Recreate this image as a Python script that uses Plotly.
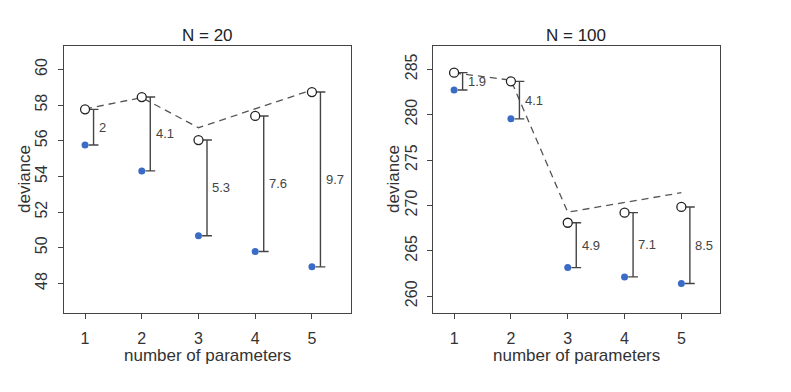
import plotly.graph_objects as go

params = [1, 2, 3, 4, 5]

# N = 20
in20 = [55.76, 54.31, 50.67, 49.79, 48.93]
out20 = [57.76, 58.45, 56.04, 57.39, 58.73]
pred20 = [57.78, 58.42, 56.73, 57.80, 58.85]
lab20 = ["2", "4.1", "5.3", "7.6", "9.7"]

# N = 100
in100 = [282.71, 279.54, 263.15, 262.12, 261.40]
out100 = [284.63, 283.67, 268.09, 269.20, 269.83]
pred100 = [284.60, 283.80, 269.25, 270.30, 271.40]
lab100 = ["1.9", "4.1", "4.9", "7.1", "8.5"]

titles = ["N = 20", "N = 100"]
yticks20 = [48, 50, 52, 54, 56, 58, 60]
yticks100 = [260, 265, 270, 275, 280, 285]

W, H = 791, 392
FONT = "Liberation Sans, Arial, sans-serif"
BLUE = "#3a6bc6"
DARK = "#333333"

fig = go.Figure()

panels = [
    dict(xa="x", ya="y", ins=in20, outs=out20, pred=pred20, labs=lab20),
    dict(xa="x2", ya="y2", ins=in100, outs=out100, pred=pred100, labs=lab100),
]

for p in panels:
    xa, ya = p["xa"], p["ya"]
    # dashed prediction line
    fig.add_trace(go.Scatter(x=params, y=p["pred"], mode="lines", xaxis=xa, yaxis=ya,
                             line=dict(color="#555555", width=1.3, dash="7px,5px"),
                             showlegend=False, hoverinfo="skip"))
    # bars between in and out of sample
    bx, by = [], []
    for xi, a, b in zip(params, p["ins"], p["outs"]):
        bx += [xi + 0.15, xi + 0.15, None]
        by += [a, b, None]
    fig.add_trace(go.Scatter(x=bx, y=by, mode="lines", xaxis=xa, yaxis=ya,
                             line=dict(color="#444444", width=1.4),
                             showlegend=False, hoverinfo="skip"))
    cx = [xi + 0.15 for xi in params] * 2
    cy = list(p["ins"]) + list(p["outs"])
    fig.add_trace(go.Scatter(x=cx, y=cy, mode="markers", xaxis=xa, yaxis=ya,
                             marker=dict(symbol="line-ew-open", size=7, color="#444444",
                                         line=dict(color="#444444", width=1.4)),
                             showlegend=False, hoverinfo="skip"))
    # in-sample points
    fig.add_trace(go.Scatter(x=params, y=p["ins"], mode="markers", xaxis=xa, yaxis=ya,
                             marker=dict(color=BLUE, size=7, line=dict(width=0)),
                             showlegend=False))
    # out-of-sample points
    fig.add_trace(go.Scatter(x=params, y=p["outs"], mode="markers", xaxis=xa, yaxis=ya,
                             marker=dict(color="white", size=9,
                                         line=dict(color="#222222", width=1.3)),
                             showlegend=False))
    # difference labels
    for xi, a, b, t in zip(params, p["ins"], p["outs"], p["labs"]):
        fig.add_annotation(x=xi + 0.21, y=(a + b) / 2, xref=xa, yref=ya, text=t,
                           showarrow=False, xanchor="left", yanchor="middle",
                           font=dict(family=FONT, size=13, color="#444444"))

ydom = [1 - 312.5 / H, 1 - 45.5 / H]
dom1 = [63.5 / W, 350.5 / W]
dom2 = [432.5 / W, 720 / W]

axis_common = dict(showgrid=False, zeroline=False, showline=True, mirror=True,
                   linecolor="#444444", linewidth=1, ticks="outside", ticklen=5,
                   tickcolor="#444444", automargin=False,
                   tickfont=dict(family=FONT, size=16, color=DARK))

fig.update_layout(
    width=W, height=H,
    margin=dict(l=0, r=0, t=0, b=0),
    plot_bgcolor="white", paper_bgcolor="white",
    xaxis=dict(domain=dom1, range=[0.62, 5.68], tickvals=params, anchor="y",
               ticklabelstandoff=6, **axis_common),
    yaxis=dict(domain=ydom, range=[46.37, 61.34], tickvals=yticks20, tickangle=-90,
               anchor="x", ticklabelstandoff=4, **axis_common),
    xaxis2=dict(domain=dom2, range=[0.62, 5.68], tickvals=params, anchor="y2",
                ticklabelstandoff=6, **axis_common),
    yaxis2=dict(domain=ydom, range=[258.2, 287.62], tickvals=yticks100, tickangle=-90,
                anchor="x2", ticklabelstandoff=3, **axis_common),
)

# titles and axis labels
for dom, title, ycx in [(dom1, titles[0], 24), (dom2, titles[1], 393)]:
    cx = (dom[0] + dom[1]) / 2
    fig.add_annotation(x=cx, y=1 - 35 / H, xref="paper", yref="paper", text=title,
                       showarrow=False, xanchor="center", yanchor="middle",
                       font=dict(family=FONT, size=17, color="#222222"))
    fig.add_annotation(x=cx, y=1 - 355 / H, xref="paper", yref="paper",
                       text="number of parameters", showarrow=False,
                       xanchor="center", yanchor="middle",
                       font=dict(family=FONT, size=17, color=DARK))
    fig.add_annotation(x=ycx / W, y=(ydom[0] + ydom[1]) / 2, xref="paper", yref="paper",
                       text="deviance", textangle=-90, showarrow=False,
                       xanchor="center", yanchor="middle",
                       font=dict(family=FONT, size=17, color=DARK))

fig.write_html("out.html", config={"displayModeBar": False},
               post_script="document.body.style.margin='0';document.body.style.overflow='hidden';")
